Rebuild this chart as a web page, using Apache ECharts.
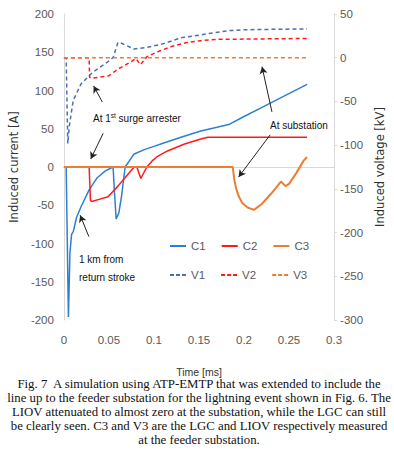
<!DOCTYPE html>
<html>
<head>
<meta charset="utf-8">
<script src="https://cdn.jsdelivr.net/npm/echarts@6/dist/echarts.min.js"></script>
<style>
  html, body { margin: 0; padding: 0; background: #fff; }
  #chart { width: 394px; height: 450px; }
</style>
</head>
<body>
<div id="chart"></div>
<script>
// currents [time ms, A]
const c1Data = [[0, 0], [0.0025, 0], [0.005, -196], [0.0067, -112], [0.0085, -88], [0.0105, -84], [0.014, -66], [0.019, -52], [0.028, -30], [0.037, -14], [0.046, -5], [0.0546, 0], [0.056, -30], [0.058, -68], [0.061, -60], [0.064, -38], [0.068, 0], [0.0755, 13], [0.078, 17], [0.09, 23], [0.1, 27], [0.11, 31], [0.13, 39], [0.152, 47], [0.17, 52], [0.184, 56], [0.2, 66], [0.22, 78], [0.24, 90], [0.27, 108]]
const c2Data = [[0, 0], [0.028, 0], [0.0295, -44], [0.031, -45], [0.04, -42], [0.049, -39], [0.06, -25], [0.07, -11], [0.078, 0], [0.081, 0], [0.0854, -15], [0.092, 0], [0.098, 8], [0.104, 14], [0.115, 21], [0.134, 30], [0.152, 36.5], [0.16, 39], [0.27, 39]]
const c3Data = [[0, 0], [0.1875, 0], [0.189, -15], [0.191, -27], [0.194, -38], [0.198, -47], [0.204, -53], [0.211, -56], [0.22, -48], [0.23, -35], [0.241, -19], [0.246, -25], [0.25, -22], [0.258, -8], [0.266, 8], [0.27, 13]]
// voltages [time ms, kV]
const v1Data = [[0, 0], [0.0025, 0], [0.0043, -98], [0.006, -78], [0.0103, -49], [0.019, -30], [0.0316, -17], [0.0457, -7], [0.0546, 0], [0.06, 17.5], [0.064, 16.5], [0.0777, 10], [0.09, 11.5], [0.1, 13.5], [0.11, 16], [0.131, 23], [0.152, 26], [0.163, 28], [0.184, 31], [0.2, 32], [0.27, 33]]
const v2Data = [[0, 0], [0.028, 0], [0.0285, -22.5], [0.031, -23.6], [0.05, -20.5], [0.06, -13], [0.074, -5], [0.08, -1], [0.085, -8], [0.092, 1], [0.102, 6], [0.12, 13], [0.135, 17], [0.152, 19.5], [0.17, 21], [0.27, 22]]
const v3Data = [[0, 0], [0.27, 0]]

const currentNames = ['C1', 'C2', 'C3']
const voltageNames = ['V1', 'V2', 'V3']
const timeAxis = { min: 0, max: 0.3, step: 0.05 }
const currentAxis = { min: -200, max: 200, step: 50 }
const voltageAxis = { min: -300, max: 50, step: 50 }

// annotation arrows, [from, to] in [time, A]
const arrows = [
  [[0.0426, 85], [0.033, 106]],
  [[0.0436, 44], [0.0298, 10.5]],
  [[0.231, 72], [0.22, 131]],
  [[0.229, 42], [0.194, -13]],
  [[0.0277, -91], [0.018, -63]]
]

const captionLines = [
  'Fig. 7  A simulation using ATP-EMTP that was extended to include the',
  'line up to the feeder substation for the lightning event shown in Fig. 6. The',
  'LIOV attenuated to almost zero at the substation, while the LGC can still',
  'be clearly seen. C3 and V3 are the LGC and LIOV respectively measured',
  'at the feeder substation.'
]

const sans = "'Liberation Sans', Arial, sans-serif"
const axisGray = '#D9D9D9'
const labelGray = '#595959'
const colors = { C1: '#2F7FD0', C2: '#FF1A1A', C3: '#ED7D31', V1: '#4A70AE', V2: '#FF1A1A', V3: '#ED7D31' }

const chart = echarts.init(document.getElementById('chart'), null, { renderer: 'svg' })

const lineSeries = (name, data, yAxisIndex, dashed) => ({
  name,
  type: 'line',
  data,
  yAxisIndex,
  showSymbol: false,
  symbol: 'none',
  silent: true,
  color: colors[name],
  lineStyle: { color: colors[name], width: name === 'C3' ? 2 : 1.5, type: dashed ? [4, 3] : 'solid' }
})

// legend icons: plain stroke for C, three dashes for V
const legendBase = {
  left: 165,
  itemWidth: 16,
  itemHeight: 2,
  itemGap: 16,
  textStyle: { fontFamily: sans, fontSize: 11.5, color: labelGray }
}

const c1 = lineSeries('C1', c1Data, 0, false)
c1.markLine = {
  silent: true,
  symbol: ['none', 'arrow'],
  symbolSize: [6, 7],
  label: { show: false },
  lineStyle: { color: '#222', width: 1, type: 'solid' },
  data: arrows.map(([a, b]) => [{ coord: a }, { coord: b }])
}

const textEl = (x, y, text, extra) => ({
  type: 'text',
  x,
  y,
  silent: true,
  style: Object.assign({ text, font: '10px ' + sans, fill: '#111', textVerticalAlign: 'middle' }, extra)
})

const option = {
  animation: false,
  backgroundColor: '#fff',
  grid: { left: 57, right: 54, top: 14, bottom: 130 },
  xAxis: {
    type: 'value',
    min: timeAxis.min,
    max: timeAxis.max,
    interval: timeAxis.step,
    name: 'Time [ms]',
    nameLocation: 'middle',
    nameGap: 46,
    nameTextStyle: { fontFamily: sans, fontSize: 10.5, color: '#333' },
    axisLine: { lineStyle: { color: axisGray } },
    axisTick: { show: false },
    splitLine: { show: false },
    axisLabel: { fontFamily: sans, fontSize: 11.5, color: labelGray, margin: 14 }
  },
  yAxis: [
    {
      type: 'value',
      min: currentAxis.min,
      max: currentAxis.max,
      interval: currentAxis.step,
      name: 'Induced current [A]',
      nameLocation: 'middle',
      nameRotate: 90,
      nameGap: 30,
      nameTextStyle: { fontFamily: 'DejaVu Sans', fontSize: 11.5, color: '#333' },
      axisLine: { show: true, lineStyle: { color: axisGray } },
      axisTick: { show: false },
      splitLine: { show: false },
      axisLabel: { fontFamily: sans, fontSize: 11.5, color: labelGray, margin: 10 }
    },
    {
      type: 'value',
      position: 'right',
      min: voltageAxis.min,
      max: voltageAxis.max,
      interval: voltageAxis.step,
      name: 'Induced voltage [kV]',
      nameLocation: 'middle',
      nameRotate: 90,
      nameGap: 30,
      nameTextStyle: { fontFamily: 'DejaVu Sans', fontSize: 11.5, color: '#333' },
      axisLine: { show: true, lineStyle: { color: axisGray } },
      axisTick: { show: true, length: 3, lineStyle: { color: axisGray } },
      splitLine: { show: false },
      axisLabel: { fontFamily: sans, fontSize: 11.5, color: labelGray, margin: 6 }
    }
  ],
  legend: [
    Object.assign({ data: currentNames, top: 235, icon: 'path://M0,0H16V2H0Z' }, legendBase),
    Object.assign({ data: voltageNames, top: 264, icon: 'path://M0,0H4V2H0Z M6,0H10V2H6Z M12,0H16V2H12Z' }, legendBase)
  ],
  series: [
    c1,
    lineSeries('C2', c2Data, 0, false),
    lineSeries('C3', c3Data, 0, false),
    lineSeries('V1', v1Data, 1, true),
    lineSeries('V2', v2Data, 1, true),
    lineSeries('V3', v3Data, 1, true)
  ],
  graphic: [
    textEl(93, 118, '{a|At 1}{b|st}{a| surge arrester}', {
      rich: {
        a: { font: '10px ' + sans, fill: '#111' },
        b: { font: '6.5px ' + sans, fill: '#111', verticalAlign: 'top', padding: [0, 0, 5, 0] }
      }
    }),
    textEl(270, 125, 'At substation'),
    textEl(79, 259, '1 km from'),
    textEl(79, 277, 'return stroke'),
    ...captionLines.map((t, i) => ({
      type: 'text',
      x: 199,
      y: 384 + i * 14,
      silent: true,
      style: {
        text: t,
        font: "12.8px 'Liberation Serif', 'Times New Roman', serif",
        fill: '#111',
        textAlign: 'center',
        textVerticalAlign: 'middle'
      }
    }))
  ]
}

chart.setOption(option)
</script>
</body>
</html>
